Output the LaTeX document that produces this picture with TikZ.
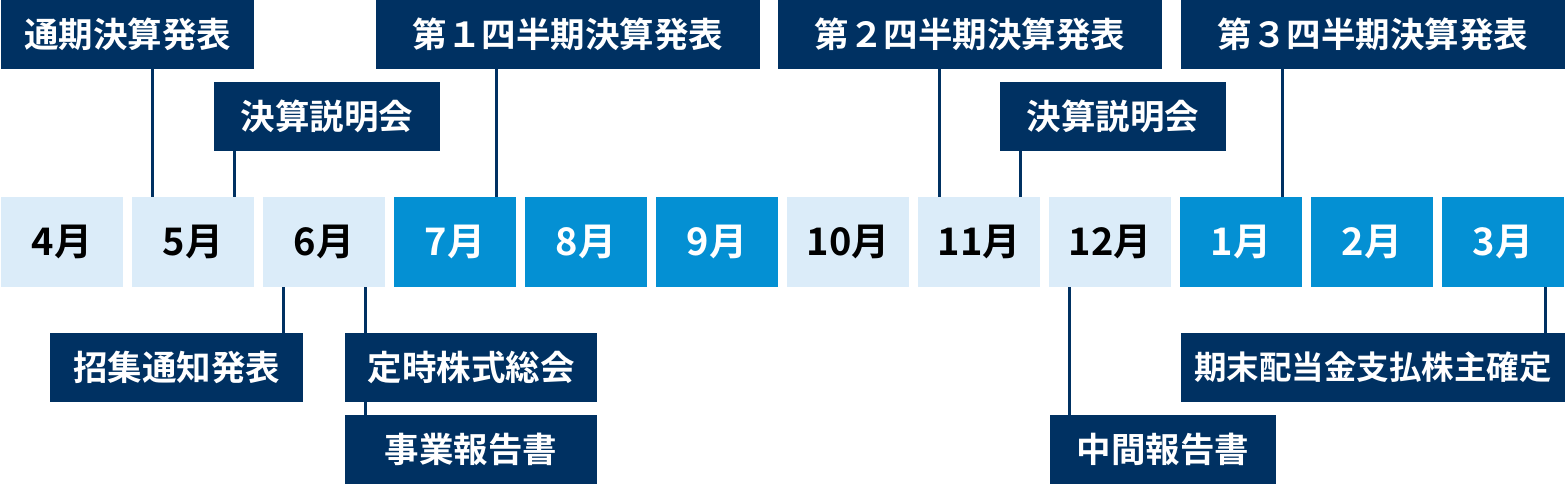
\documentclass[tikz,border=0pt]{standalone}
\usepackage{fontspec}
\setmainfont{Noto Sans CJK JP}[BoldFont={Noto Sans CJK JP Bold}]
\definecolor{navy}{RGB}{0,49,98}
\definecolor{midblue}{RGB}{4,144,211}
\definecolor{paleblue}{RGB}{219,236,249}
\tikzset{
  evbox/.style={fill=navy, text=white, font=\bfseries\fontsize{34.5}{38}\selectfont,
    anchor=north west, inner sep=0pt, outer sep=0pt, minimum height=69pt},
  monlight/.style={fill=paleblue, text=black, font=\bfseries\fontsize{38}{42}\selectfont,
    anchor=north west, inner sep=0pt, outer sep=0pt, minimum width=122pt, minimum height=90pt},
  mondark/.style={monlight, fill=midblue, text=white},
  link/.style={draw=navy, line width=3pt}
}
\begin{document}
\begin{tikzpicture}[x=1pt,y=-1pt]
\useasboundingbox (0,0) rectangle (1565,484);
% month boxes
\node[monlight] (m4)  at (1,197)    {4月};
\node[monlight] (m5)  at (132,197)  {5月};
\node[monlight] (m6)  at (263,197)  {6月};
\node[mondark]  (m7)  at (394,197)  {7月};
\node[mondark]  (m8)  at (525,197)  {8月};
\node[mondark]  (m9)  at (656,197)  {9月};
\node[monlight] (m10) at (787,197)  {10月};
\node[monlight] (m11) at (918,197)  {11月};
\node[monlight] (m12) at (1049,197) {12月};
\node[mondark]  (m1)  at (1180,197) {1月};
\node[mondark]  (m2)  at (1311,197) {2月};
\node[mondark]  (m3)  at (1442,197) {3月};
% top events
\node[evbox, minimum width=253pt] (tsuki) at (1,0) {通期決算発表};
\node[evbox, minimum width=226pt] (setsu1) at (214,82) {決算説明会};
\node[evbox, minimum width=384pt] (q1) at (376,0) {第１四半期決算発表};
\node[evbox, minimum width=384pt] (q2) at (778,0) {第２四半期決算発表};
\node[evbox, minimum width=226pt] (setsu2) at (1000,82) {決算説明会};
\node[evbox, minimum width=384pt] (q3) at (1181,0) {第３四半期決算発表};
% bottom events
\node[evbox, minimum width=253pt] (shoshu) at (50,333) {招集通知発表};
\node[evbox, minimum width=252pt] (soukai) at (345,333) {定時株式総会};
\node[evbox, minimum width=252pt] (jigyo) at (345,415) {事業報告書};
\node[evbox, minimum width=226pt] (chukan) at (1050,415) {中間報告書};
\node[evbox, minimum width=384pt, font=\bfseries\fontsize{32.5}{36}\selectfont] (kimatsu) at (1181,333) {期末配当金支払株主確定};
% connector x positions
\coordinate (x1) at (152,0);
\coordinate (x2) at (234,0);
\coordinate (x3) at (496,0);
\coordinate (x4) at (939,0);
\coordinate (x5) at (1020,0);
\coordinate (x6) at (1282,0);
\coordinate (x7) at (283,0);
\coordinate (x8) at (365,0);
\coordinate (x9) at (1069,0);
\coordinate (x10) at (1545,0);
% connectors
\draw[link] (tsuki.south -| x1) -- (m5.north -| x1);
\draw[link] (setsu1.south -| x2) -- (m5.north -| x2);
\draw[link] (q1.south -| x3) -- (m7.north -| x3);
\draw[link] (q2.south -| x4) -- (m11.north -| x4);
\draw[link] (setsu2.south -| x5) -- (m11.north -| x5);
\draw[link] (q3.south -| x6) -- (m1.north -| x6);
\draw[link] (m6.south -| x7) -- (shoshu.north -| x7);
\draw[link] (m6.south -| x8) -- (soukai.north -| x8);
\draw[link] (soukai.south -| x8) -- (jigyo.north -| x8);
\draw[link] (m12.south -| x9) -- (chukan.north -| x9);
\draw[link] (m3.south -| x10) -- (kimatsu.north -| x10);
\end{tikzpicture}
\end{document}
